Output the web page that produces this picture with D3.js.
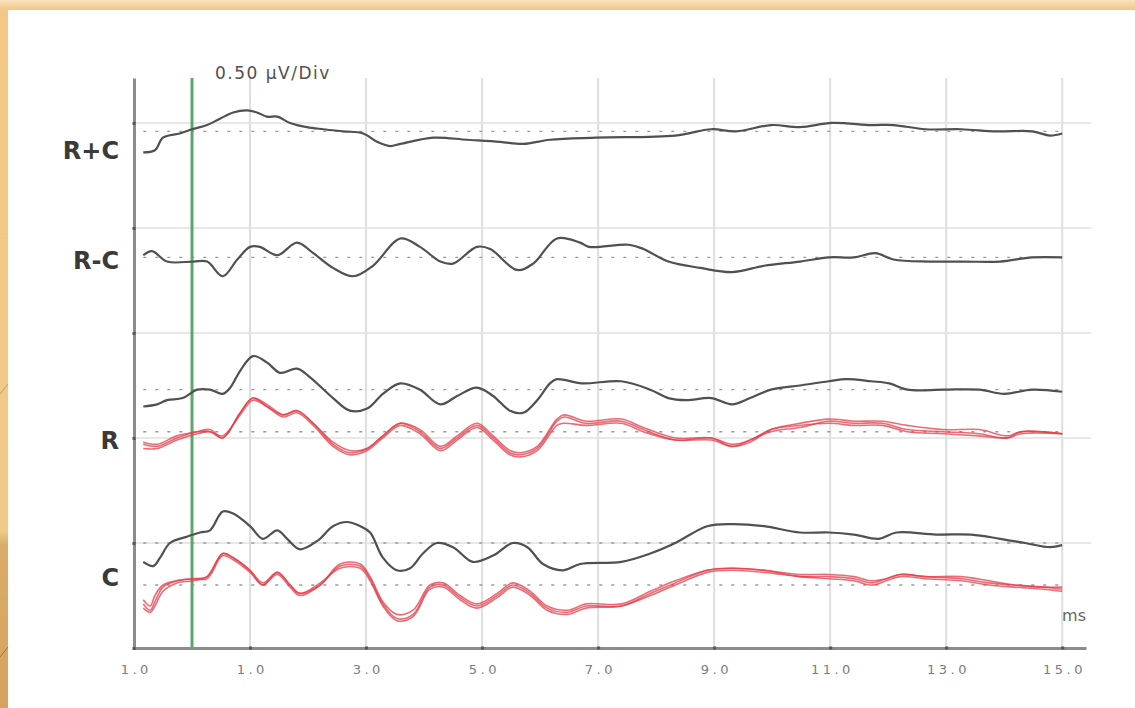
<!DOCTYPE html>
<html>
<head>
<meta charset="utf-8">
<script src="https://cdn.jsdelivr.net/npm/d3@7"></script>
<style>
	body { margin: 0; background: #fff; }
	svg text { font-family: "DejaVu Sans", Verdana, sans-serif; }
</style>
</head>
<body>
<div id="graph"></div>
<script>
// x axis: ms after stimulus (first label reads "1.0", the minus is lost in the original)
const xTicks = [-1, 1, 3, 5, 7, 9, 11, 13, 15];
const xTickLabels = ["1.0", "1.0", "3.0", "5.0", "7.0", "9.0", "11.0", "13.0", "15.0"];
// y axis in µV, 0.50 µV per division
const yGrid = [0, 0.5, 1.0, 1.5, 2.0, 2.5];
const scaleLabel = "0.50 µV/Div";
const unitLabel = "ms";

const traceNames = ["R+C", "R-C", "R", "C"];
const nameLevels = [2.36, 1.84, 0.98, 0.33];   // µV where each name sits

// baseline (dotted) of every trace, µV above the axis
const baseRC = 2.46, baseRmC = 1.86, baseR = 1.23, baseRred = 1.03, baseC = 0.50, baseCred = 0.30;

// black averaged traces: [ms, µV]
const rcSum = [[-0.84,-0.10],[-0.64,-0.09],[-0.50,-0.03],[-0.21,-0.01],[0.00,0.01],[0.26,0.03],[0.48,0.06],[0.71,0.09],[0.95,0.10],[1.12,0.09],[1.29,0.07],[1.47,0.07],[1.69,0.04],[1.98,0.02],[2.26,0.01],[2.60,0.00],[2.95,-0.01],[3.19,-0.05],[3.41,-0.07],[3.59,-0.06],[4.16,-0.03],[4.74,-0.04],[5.31,-0.05],[5.71,-0.06],[6.17,-0.04],[6.97,-0.03],[8.33,-0.02],[8.95,0.01],[9.38,0.00],[9.98,0.03],[10.48,0.02],[11.03,0.04],[11.71,0.03],[12.09,0.03],[12.64,0.01],[13.26,0.01],[13.86,0.00],[14.48,0.00],[14.79,-0.02],[15.00,-0.01]];
const rcDiff = [[-0.84,0.01],[-0.69,0.03],[-0.43,-0.02],[0.02,-0.02],[0.26,-0.02],[0.53,-0.09],[0.78,-0.01],[1.00,0.05],[1.17,0.05],[1.47,0.01],[1.81,0.07],[2.09,0.02],[2.43,-0.05],[2.78,-0.09],[3.12,-0.04],[3.59,0.09],[3.93,0.05],[4.28,-0.02],[4.50,-0.03],[4.91,0.05],[5.14,0.04],[5.60,-0.06],[5.88,-0.03],[6.29,0.09],[6.69,0.07],[6.84,0.05],[7.53,0.06],[7.78,0.04],[8.21,-0.02],[8.76,-0.05],[9.31,-0.07],[9.86,-0.04],[10.48,-0.02],[10.98,0.00],[11.41,0.00],[11.78,0.02],[12.09,-0.01],[12.71,-0.02],[13.31,-0.02],[13.93,-0.02],[14.48,0.00],[15.00,0.00]];
const rBlack = [[-0.84,-0.08],[-0.60,-0.07],[-0.43,-0.05],[-0.16,-0.04],[0.09,0.00],[0.31,0.00],[0.53,-0.02],[0.66,0.01],[0.83,0.09],[1.05,0.16],[1.29,0.13],[1.52,0.08],[1.81,0.10],[2.03,0.06],[2.43,-0.04],[2.72,-0.10],[3.02,-0.09],[3.29,-0.02],[3.59,0.03],[3.93,0.00],[4.28,-0.07],[4.57,-0.03],[4.91,0.01],[5.19,-0.03],[5.48,-0.10],[5.71,-0.11],[5.95,-0.05],[6.17,0.03],[6.29,0.05],[6.72,0.03],[7.40,0.04],[7.90,0.00],[8.21,-0.04],[8.52,-0.05],[8.95,-0.04],[9.31,-0.07],[9.62,-0.04],[9.98,0.00],[10.48,0.02],[10.98,0.04],[11.28,0.05],[11.71,0.04],[12.02,0.03],[12.33,0.00],[12.95,0.00],[13.57,0.00],[14.00,-0.02],[14.48,0.00],[15.00,-0.01]];
const cBlack = [[-0.84,-0.09],[-0.67,-0.11],[-0.55,-0.07],[-0.38,0.00],[-0.09,0.03],[0.14,0.05],[0.31,0.06],[0.53,0.15],[0.71,0.14],[1.00,0.08],[1.22,0.02],[1.47,0.06],[1.64,0.02],[1.86,-0.03],[2.16,0.01],[2.43,0.08],[2.67,0.10],[2.90,0.08],[3.07,0.05],[3.29,-0.07],[3.53,-0.13],[3.76,-0.12],[3.98,-0.05],[4.22,0.00],[4.50,-0.02],[4.84,-0.09],[5.19,-0.06],[5.53,0.00],[5.78,-0.02],[6.05,-0.10],[6.40,-0.13],[6.69,-0.10],[7.40,-0.09],[7.90,-0.05],[8.33,0.00],[8.88,0.08],[9.31,0.09],[9.86,0.08],[10.48,0.05],[10.98,0.05],[11.41,0.04],[11.84,0.02],[12.14,0.05],[12.83,0.04],[13.43,0.04],[13.93,0.02],[14.36,0.00],[14.79,-0.02],[15.00,-0.01]];

// red single runs, three per ear, sharing a time base
const rRedT = [-0.84,-0.60,-0.26,0.09,0.31,0.53,0.83,1.05,1.29,1.57,1.81,2.09,2.43,2.72,3.02,3.29,3.59,3.93,4.28,4.57,4.91,5.19,5.48,5.66,5.95,6.29,6.41,6.79,7.40,7.78,8.33,8.95,9.31,9.62,9.98,10.48,10.98,11.41,11.90,12.33,12.95,13.57,14.05,14.29,15.00];
const rRed1 = [-0.06,-0.07,-0.03,0.00,0.00,-0.03,0.09,0.16,0.12,0.08,0.10,0.04,-0.06,-0.10,-0.08,-0.02,0.04,0.00,-0.08,-0.03,0.03,-0.03,-0.10,-0.11,-0.08,0.05,0.07,0.04,0.05,0.01,-0.04,-0.03,-0.07,-0.04,0.00,0.02,0.05,0.04,0.04,0.01,0.00,-0.01,-0.03,0.00,-0.01];
const rRed2 = [-0.08,-0.08,-0.04,-0.01,0.00,-0.02,0.08,0.15,0.12,0.07,0.09,0.03,-0.07,-0.11,-0.09,-0.03,0.03,-0.01,-0.09,-0.04,0.02,-0.04,-0.11,-0.12,-0.09,0.03,0.04,0.03,0.04,0.00,-0.04,-0.04,-0.07,-0.05,0.01,0.04,0.06,0.05,0.05,0.03,0.01,0.01,-0.02,0.00,-0.01];
const rRed3 = [-0.05,-0.06,-0.02,0.00,0.01,-0.03,0.09,0.16,0.13,0.08,0.10,0.04,-0.05,-0.09,-0.08,-0.02,0.04,0.01,-0.07,-0.02,0.04,-0.02,-0.09,-0.10,-0.07,0.06,0.08,0.05,0.06,0.02,-0.03,-0.03,-0.06,-0.04,0.01,0.03,0.04,0.03,0.03,0.00,-0.01,-0.02,-0.03,-0.01,-0.01];

const cRedT = [-0.84,-0.72,-0.64,-0.50,-0.26,0.02,0.26,0.53,0.71,1.00,1.22,1.47,1.69,1.86,2.21,2.55,2.90,3.07,3.29,3.53,3.81,4.10,4.33,4.62,4.91,5.26,5.53,5.83,6.12,6.48,6.79,7.40,7.90,8.33,8.88,9.31,9.86,10.48,10.98,11.41,11.71,11.97,12.21,12.64,13.26,13.74,14.17,14.67,15.00];
const cRed1 = [-0.09,-0.12,-0.08,-0.01,0.02,0.03,0.04,0.15,0.13,0.07,0.00,0.06,0.00,-0.04,0.00,0.09,0.09,0.03,-0.09,-0.16,-0.14,-0.01,0.00,-0.06,-0.10,-0.05,0.00,-0.04,-0.11,-0.13,-0.10,-0.10,-0.04,0.01,0.07,0.08,0.07,0.04,0.04,0.03,0.01,0.03,0.05,0.04,0.03,0.01,0.00,-0.01,-0.02];
const cRed2 = [-0.07,-0.10,-0.05,0.00,0.02,0.03,0.03,0.14,0.12,0.06,0.00,0.05,-0.01,-0.05,0.00,0.10,0.10,0.04,-0.08,-0.14,-0.12,0.00,0.01,-0.05,-0.09,-0.04,0.01,-0.03,-0.10,-0.12,-0.09,-0.09,-0.03,0.02,0.07,0.08,0.07,0.05,0.05,0.04,0.02,0.03,0.05,0.04,0.04,0.02,0.00,-0.01,-0.01];
const cRed3 = [-0.11,-0.13,-0.10,-0.03,0.01,0.02,0.04,0.15,0.13,0.07,0.01,0.06,0.00,-0.04,0.01,0.08,0.08,0.02,-0.10,-0.17,-0.15,-0.02,-0.01,-0.07,-0.11,-0.06,-0.01,-0.05,-0.12,-0.14,-0.11,-0.10,-0.05,0.00,0.06,0.07,0.06,0.04,0.03,0.02,0.00,0.02,0.04,0.03,0.02,0.00,-0.01,-0.02,-0.03];


const width = 1135, height = 708;
const svg = d3.select("#graph").append("svg").attr("width", width).attr("height", height);

// slide frame (orange bar on top and left)
const defs = svg.append("defs");
const topGrad = defs.append("linearGradient").attr("id", "topGrad").attr("x1", 0).attr("y1", 0).attr("x2", 0).attr("y2", 1);
topGrad.append("stop").attr("offset", 0).attr("stop-color", "#f9e3bf");
topGrad.append("stop").attr("offset", 1).attr("stop-color", "#f2c585");
const leftGrad = defs.append("linearGradient").attr("id", "leftGrad").attr("x1", 0).attr("y1", 0).attr("x2", 0).attr("y2", 1);
leftGrad.append("stop").attr("offset", 0).attr("stop-color", "#f3c887");
leftGrad.append("stop").attr("offset", 0.75).attr("stop-color", "#f1c988");
leftGrad.append("stop").attr("offset", 0.77).attr("stop-color", "#dbab69");
leftGrad.append("stop").attr("offset", 1).attr("stop-color", "#d4a35e");
svg.append("rect").attr("x", 0).attr("y", 0).attr("width", 8).attr("height", height).attr("fill", "url(#leftGrad)");
svg.append("rect").attr("x", 0).attr("y", 0).attr("width", width).attr("height", 10).attr("fill", "url(#topGrad)");
svg.append("line").attr("x1", 0).attr("y1", 394).attr("x2", 8).attr("y2", 384).attr("stroke", "#b8925a").attr("stroke-width", 0.8);
svg.append("line").attr("x1", 0).attr("y1", 657).attr("x2", 8).attr("y2", 647).attr("stroke", "#8a6a3a").attr("stroke-width", 0.8);

// scales
const x = d3.scaleLinear().domain([-1, 15.41]).range([134, 1086]);
const y = d3.scaleLinear().domain([0, 2.714]).range([648, 78]);

// grid
svg.append("g").selectAll("line").data(xTicks.slice(1)).join("line")
	.attr("x1", d => x(d)).attr("x2", d => x(d))
	.attr("y1", y(2.714)).attr("y2", y(0))
	.attr("stroke", "#dedede").attr("stroke-width", 2);
svg.append("g").selectAll("line").data(yGrid.slice(1)).join("line")
	.attr("x1", x(-1)).attr("x2", x(15.5))
	.attr("y1", d => y(d)).attr("y2", d => y(d))
	.attr("stroke", "#e0e0e0").attr("stroke-width", 1.5);

// dotted baselines
const baselines = [baseRC, baseRmC, baseR, baseRred, baseC, baseCred];
svg.append("g").selectAll("line").data(baselines).join("line")
	.attr("x1", x(-0.84)).attr("x2", x(15))
	.attr("y1", d => y(d)).attr("y2", d => y(d))
	.attr("stroke", "#9a9a9a").attr("stroke-width", 1.4)
	.attr("stroke-dasharray", "3,9");

// stimulus marker at 0 ms
svg.append("line")
	.attr("x1", x(0)).attr("x2", x(0)).attr("y1", y(2.714)).attr("y2", y(0))
	.attr("stroke", "#5da66c").attr("stroke-width", 3);

// axes
const xaxis = svg.append("g")
	.attr("transform", `translate(0, ${y(0)})`)
	.call(d3.axisBottom(x).tickValues(xTicks).tickFormat((d, i) => xTickLabels[i]).tickSize(3).tickSizeOuter(0).tickPadding(14));
xaxis.select(".domain").attr("stroke", "#8c8c8c").attr("stroke-width", 3);
xaxis.selectAll(".tick line").attr("stroke", "#555").attr("stroke-width", 3).attr("transform", "translate(0,-1.5)");
xaxis.selectAll(".tick text")
	.attr("fill", "#7c7c7c").style("font-size", "13px").style("letter-spacing", "3.5px")
	.attr("dx", "1.75px");

const yaxis = svg.append("g")
	.attr("transform", `translate(${x(-1)}, 0)`)
	.call(d3.axisLeft(y).tickValues(yGrid).tickFormat("").tickSize(3).tickSizeOuter(0));
yaxis.select(".domain").attr("stroke", "#8c8c8c").attr("stroke-width", 3);
yaxis.selectAll(".tick line").attr("stroke", "#555").attr("stroke-width", 3).attr("transform", "translate(1.5,0)");

// traces
function drawTrace(points, base, color, w, op) {
	let line = d3.line()
		.x(d => x(d[0]))
		.y(d => y(base + d[1]))
		.curve(d3.curveCatmullRom.alpha(0.5));
	svg.append("path").attr("d", line(points))
		.attr("fill", "none").attr("stroke", color)
		.attr("stroke-width", w).attr("stroke-opacity", op)
		.attr("stroke-linejoin", "round");
}
const pairUp = (t, v) => t.map((d, i) => [d, v[i]]);

[rRed1, rRed2, rRed3].forEach(v => drawTrace(pairUp(rRedT, v), baseRred, "#e23c48", 1.6, 0.75));
[cRed1, cRed2, cRed3].forEach(v => drawTrace(pairUp(cRedT, v), baseCred, "#e23c48", 1.6, 0.75));
drawTrace(rcSum, baseRC, "#505050", 2.2, 1);
drawTrace(rcDiff, baseRmC, "#505050", 2.2, 1);
drawTrace(rBlack, baseR, "#505050", 2.2, 1);
drawTrace(cBlack, baseC, "#505050", 2.2, 1);

// trace names
svg.append("g").selectAll("text").data(traceNames).join("text")
	.attr("x", 119).attr("y", (d, i) => y(nameLevels[i]))
	.attr("text-anchor", "end").attr("dominant-baseline", "middle")
	.attr("fill", "#3a3a3a").style("font-size", "24px").style("font-weight", "bold")
	.text(d => d);

svg.append("text").attr("x", 215).attr("y", 79)
	.attr("fill", "#505050").style("font-size", "17px").style("letter-spacing", "1.5px")
	.text(scaleLabel);
svg.append("text").attr("x", 1086).attr("y", 621).attr("text-anchor", "end")
	.attr("fill", "#666").style("font-size", "16px")
	.text(unitLabel);
</script>
</body>
</html>
